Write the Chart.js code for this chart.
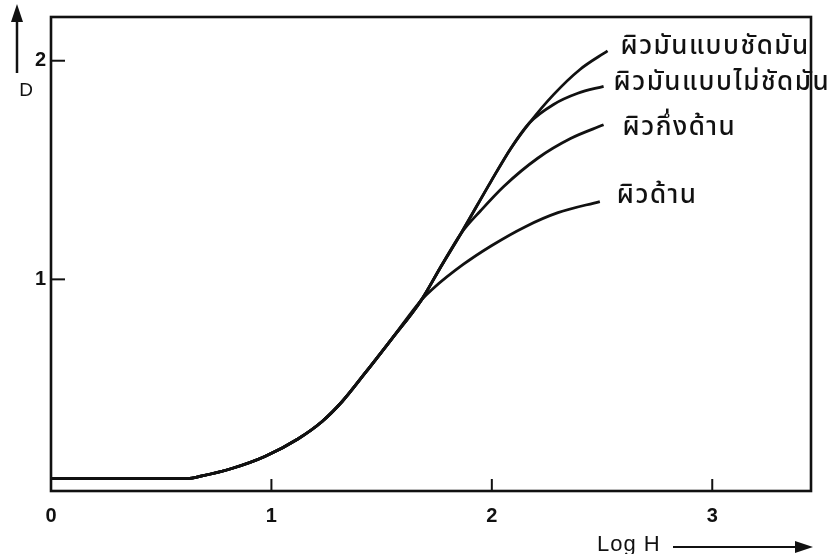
<!DOCTYPE html>
<html>
<head>
<meta charset="utf-8">
<script src="https://cdn.jsdelivr.net/npm/chart.js@4/dist/chart.umd.min.js"></script>
<style>
  body { margin: 0; background: #fff; }
  #wrap { width: 830px; height: 554px; }
</style>
</head>
<body>
<div id="wrap"><canvas id="curveChart" width="830" height="554"></canvas></div>
<script>
// toe + straight part shared by all four curves (Log H, D)
const toeLogH = [0, 0.62, 0.68, 0.82, 0.97, 1.12, 1.23, 1.32, 1.42, 1.54, 1.68];
const toeD    = [0.09, 0.09, 0.10, 0.135, 0.19, 0.27, 0.35, 0.44, 0.565, 0.72, 0.905];

// shoulder of each surface type
const glossyLogH = [1.77, 1.86, 1.995, 2.086, 2.17, 2.28, 2.40, 2.525];
const glossyD    = [1.06, 1.21, 1.446, 1.599, 1.715, 1.845, 1.96, 2.045];
const semiGlossLogH = [1.77, 1.86, 1.995, 2.086, 2.17, 2.28, 2.39, 2.507];
const semiGlossD    = [1.06, 1.21, 1.446, 1.599, 1.715, 1.80, 1.851, 1.883];
const semiMatteLogH = [1.77, 1.86, 1.95, 2.054, 2.208, 2.357, 2.507];
const semiMatteD    = [1.06, 1.21, 1.315, 1.425, 1.554, 1.644, 1.707];
const matteLogH = [1.73, 1.87, 2.0, 2.15, 2.30, 2.49];
const matteD    = [0.955, 1.068, 1.155, 1.24, 1.305, 1.356];

const curveLabels = ['ผิวมันแบบชัดมัน', 'ผิวมันแบบไม่ชัดมัน', 'ผิวกึ่งด้าน', 'ผิวด้าน'];
const xTicks = [0, 1, 2, 3];
const yTicks = [1, 2];

const thaiFont = '"Noto Sans Thai", "Noto Sans Thai UI", Loma, Garuda, "Noto Sans", sans-serif';
const latinFont = '"Liberation Sans", Arial, sans-serif';
const ink = '#111';

function curve(xs, ys) {
    const pts = toeLogH.map((x, i) => ({ x: x, y: toeD[i] }));
    return pts.concat(xs.map((x, i) => ({ x: x, y: ys[i] })));
}

function line(ctx, x1, y1, x2, y2) {
    ctx.beginPath();
    ctx.moveTo(x1, y1);
    ctx.lineTo(x2, y2);
    ctx.stroke();
}

// frame, inward ticks, axis arrows and curve names
const labelShift = [[13, -2], [10, -2], [19, 5], [17, -4]];
const decorations = {
    id: 'decorations',
    afterDatasetsDraw(chart) {
        const { ctx, chartArea: a, scales: { x, y } } = chart;
        ctx.save();
        ctx.strokeStyle = ink;
        ctx.fillStyle = ink;
        ctx.lineWidth = 2.6;
        ctx.strokeRect(a.left, a.top, a.right - a.left, a.bottom - a.top);

        ctx.lineWidth = 2;
        xTicks.slice(1).forEach(v => {
            const px = x.getPixelForValue(v);
            line(ctx, px, a.bottom, px, a.bottom - 12);
        });
        yTicks.forEach(v => {
            const py = y.getPixelForValue(v);
            line(ctx, a.left, py, a.left + 14, py);
        });

        // curve names next to the end of each curve
        ctx.font = '500 26px ' + thaiFont;
        ctx.letterSpacing = '1.5px';
        ctx.textBaseline = 'middle';
        ctx.textAlign = 'left';
        chart.data.datasets.forEach((ds, i) => {
            const pts = chart.getDatasetMeta(i).data;
            const last = pts[pts.length - 1];
            ctx.fillText(ds.label, last.x + labelShift[i][0], last.y + labelShift[i][1]);
        });
        ctx.letterSpacing = '0px';

        // D axis arrow
        ctx.lineWidth = 2.5;
        line(ctx, 17, 73, 17, 18);
        ctx.beginPath();
        ctx.moveTo(17, 4);
        ctx.lineTo(11, 22);
        ctx.lineTo(23, 22);
        ctx.closePath();
        ctx.fill();
        ctx.font = '19px ' + latinFont;
        ctx.textAlign = 'center';
        ctx.fillText('D', 26, 91);

        // Log H arrow
        ctx.font = '22px ' + latinFont;
        ctx.letterSpacing = '1px';
        ctx.textAlign = 'left';
        ctx.fillText('Log H', 597, 545);
        ctx.letterSpacing = '0px';
        ctx.lineWidth = 2;
        line(ctx, 673, 547, 800, 547);
        ctx.beginPath();
        ctx.moveTo(813, 547);
        ctx.lineTo(795, 541);
        ctx.lineTo(795, 553);
        ctx.closePath();
        ctx.fill();
        ctx.restore();
    }
};

const sets = [
    [glossyLogH, glossyD],
    [semiGlossLogH, semiGlossD],
    [semiMatteLogH, semiMatteD],
    [matteLogH, matteD]
];

const config = {
    type: 'line',
    data: {
        datasets: sets.map((s, i) => ({
            label: curveLabels[i],
            data: curve(s[0], s[1]),
            borderColor: ink,
            borderWidth: 2.8,
            pointRadius: 0,
            fill: false,
            cubicInterpolationMode: 'monotone'
        }))
    },
    options: {
        responsive: false,
        animation: false,
        layout: { padding: { top: 9, right: 19, left: 0, bottom: 0 } },
        plugins: {
            legend: { display: false },
            tooltip: { enabled: false }
        },
        scales: {
            x: {
                type: 'linear',
                min: 0,
                max: 3.448,
                afterBuildTicks: s => { s.ticks = xTicks.map(v => ({ value: v })); },
                afterFit: s => { s.height = 63; },
                grid: { display: false, drawTicks: false },
                border: { display: false },
                ticks: {
                    padding: 13,
                    color: ink,
                    maxRotation: 0,
                    autoSkip: false,
                    font: { family: latinFont, size: 20, weight: 'bold' }
                }
            },
            y: {
                type: 'linear',
                min: 0.032,
                max: 2.2,
                afterBuildTicks: s => { s.ticks = yTicks.map(v => ({ value: v })); },
                afterFit: s => { s.width = 51; },
                grid: { display: false, drawTicks: false },
                border: { display: false },
                ticks: {
                    padding: 5,
                    color: ink,
                    font: { family: latinFont, size: 20, weight: 'bold' }
                }
            }
        }
    },
    plugins: [decorations]
};

new Chart(document.getElementById('curveChart').getContext('2d'), config);
</script>
</body>
</html>
